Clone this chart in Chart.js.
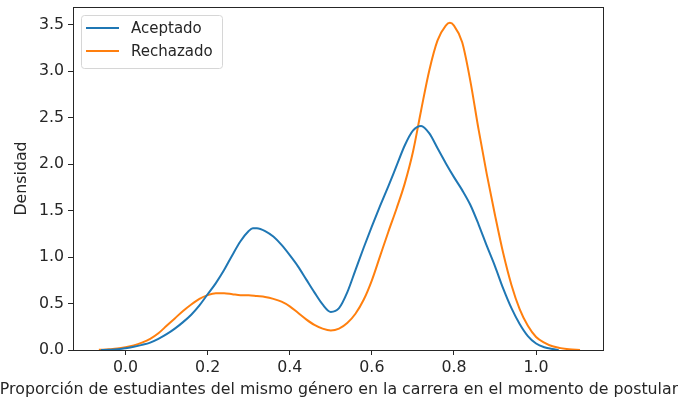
<!DOCTYPE html>
<html>
<head>
<meta charset="utf-8">
<script src="https://cdn.jsdelivr.net/npm/chart.js@4"></script>
<style>
  html, body { margin: 0; padding: 0; background: #fff; }
  #wrap { width: 678px; height: 402px; }
</style>
</head>
<body>
<div id="wrap"><canvas id="kde" width="678" height="402"></canvas></div>
<script>
// values
const seriesLabels = ["Aceptado", "Rechazado"];
const xTitle = "Proporción de estudiantes del mismo género en la carrera en el momento de postular";
const yTitle = "Densidad";

const xAceptado = [-0.06, -0.04, -0.02, 0.00, 0.02, 0.04, 0.06, 0.08, 0.10, 0.12, 0.14, 0.16, 0.18, 0.20,
  0.22, 0.24, 0.26, 0.28, 0.30, 0.31, 0.32, 0.34, 0.36, 0.38, 0.40, 0.42, 0.44, 0.46, 0.48, 0.50,
  0.52, 0.54, 0.56, 0.58, 0.60, 0.62, 0.64, 0.66, 0.68, 0.70, 0.72, 0.74, 0.76, 0.78, 0.80,
  0.82, 0.84, 0.86, 0.88, 0.90, 0.92, 0.94, 0.96, 0.98, 1.00, 1.02, 1.04, 1.055];
const yAceptado = [0.0, 0.003, 0.008, 0.02, 0.035, 0.055, 0.08, 0.12, 0.17, 0.23, 0.30, 0.38, 0.48, 0.60,
  0.72, 0.86, 1.02, 1.17, 1.28, 1.31, 1.31, 1.28, 1.22, 1.13, 1.02, 0.90, 0.76, 0.62, 0.49, 0.41,
  0.45, 0.62, 0.86, 1.10, 1.33, 1.55, 1.76, 1.98, 2.20, 2.36, 2.41, 2.33, 2.17, 2.01, 1.86,
  1.72, 1.56, 1.35, 1.12, 0.90, 0.66, 0.45, 0.28, 0.15, 0.07, 0.03, 0.01, 0.0];

const xRechazado = [-0.065, -0.04, -0.02, 0.00, 0.02, 0.04, 0.06, 0.08, 0.10, 0.12, 0.14, 0.16, 0.18, 0.20,
  0.22, 0.24, 0.26, 0.28, 0.30, 0.32, 0.34, 0.36, 0.38, 0.40, 0.42, 0.44, 0.46, 0.48, 0.50,
  0.52, 0.54, 0.56, 0.58, 0.60, 0.62, 0.64, 0.66, 0.68, 0.70, 0.72, 0.74, 0.76, 0.78, 0.79, 0.80,
  0.82, 0.84, 0.86, 0.88, 0.90, 0.92, 0.94, 0.96, 0.98, 1.00, 1.02, 1.04, 1.06, 1.08, 1.107];
const yRechazado = [0.002, 0.008, 0.015, 0.03, 0.05, 0.08, 0.12, 0.18, 0.26, 0.34, 0.42, 0.49, 0.55, 0.59,
  0.61, 0.61, 0.60, 0.59, 0.59, 0.58, 0.57, 0.55, 0.52, 0.47, 0.40, 0.33, 0.27, 0.23, 0.21,
  0.23, 0.29, 0.39, 0.54, 0.75, 1.01, 1.27, 1.52, 1.79, 2.13, 2.58, 3.01, 3.33, 3.49, 3.52, 3.49,
  3.31, 2.89, 2.37, 1.89, 1.45, 1.04, 0.70, 0.44, 0.26, 0.14, 0.08, 0.04, 0.02, 0.008, 0.0];

const xTicks = [0.0, 0.2, 0.4, 0.6, 0.8, 1.0];
const yTicks = [0.0, 0.5, 1.0, 1.5, 2.0, 2.5, 3.0, 3.5];

const colors = ["#1f77b4", "#ff7f0e"];
const ink = "#262626";
const font = "DejaVu Sans";
const textSize = 15.8;

const toPoints = (xs, ys) => xs.map((x, i) => ({ x, y: ys[i] }));

// frame round the plot area, like the matplotlib spines
const framePlugin = {
  id: "frame",
  afterDatasetsDraw(chart) {
    const { ctx, chartArea: a } = chart;
    ctx.save();
    ctx.strokeStyle = ink;
    ctx.lineWidth = 1;
    ctx.strokeRect(Math.round(a.left) + 0.5, Math.round(a.top) + 0.5,
      Math.round(a.right - a.left), Math.round(a.bottom - a.top));
    ctx.restore();
  },
};

// x title is wider than the plot, so draw it without squeezing
const xTitlePlugin = {
  id: "xTitle",
  afterDraw(chart) {
    const { ctx, chartArea: a } = chart;
    ctx.save();
    ctx.font = textSize + "px '" + font + "'";
    ctx.fillStyle = ink;
    ctx.textAlign = "center";
    ctx.textBaseline = "middle";
    ctx.fillText(xTitle, (a.left + a.right) / 2 + 1, 390);
    ctx.restore();
  },
};

// legend box in the upper left corner of the plot
const legendPlugin = {
  id: "boxLegend",
  afterDraw(chart) {
    const { ctx, chartArea: a } = chart;
    const x = a.left + 8, y = a.top + 8, w = 141, h = 53;
    ctx.save();
    ctx.fillStyle = "rgba(255,255,255,0.8)";
    ctx.strokeStyle = "#d6d6d6";
    ctx.lineWidth = 1;
    ctx.beginPath();
    ctx.roundRect(x + 0.5, y + 0.5, w, h, 3);
    ctx.fill();
    ctx.stroke();
    ctx.font = "15px '" + font + "'";
    ctx.textBaseline = "middle";
    chart.data.datasets.forEach((ds, i) => {
      const ly = y + 13 + i * 23;
      ctx.strokeStyle = ds.borderColor;
      ctx.lineWidth = 2;
      ctx.beginPath();
      ctx.moveTo(x + 5, ly);
      ctx.lineTo(x + 38, ly);
      ctx.stroke();
      ctx.fillStyle = ink;
      ctx.fillText(ds.label, x + 50, ly + 1);
    });
    ctx.restore();
  },
};

new Chart(document.getElementById("kde"), {
  type: "line",
  data: {
    datasets: [
      {
        label: seriesLabels[0],
        data: toPoints(xAceptado, yAceptado),
        borderColor: colors[0],
        borderWidth: 2,
        pointRadius: 0,
        cubicInterpolationMode: "monotone",
        fill: false,
      },
      {
        label: seriesLabels[1],
        data: toPoints(xRechazado, yRechazado),
        borderColor: colors[1],
        borderWidth: 2,
        pointRadius: 0,
        cubicInterpolationMode: "monotone",
        fill: false,
      },
    ],
  },
  options: {
    responsive: false,
    animation: false,
    layout: { padding: { top: 7, right: 75, left: 0, bottom: 0 } },
    plugins: { legend: { display: false }, tooltip: { enabled: false } },
    scales: {
      x: {
        type: "linear",
        min: -0.128,
        max: 1.163,
        afterBuildTicks: (s) => { s.ticks = xTicks.map((v) => ({ value: v })); },
        afterFit: (s) => {
          s.height = 52;
          s.paddingLeft = 0;
          s.paddingRight = 0;
        },
        ticks: {
          color: ink,
          padding: 3,
          maxRotation: 0,
          autoSkip: false,
          font: { family: font, size: textSize },
          callback: (v) => Number(v).toFixed(1),
        },
        grid: { drawOnChartArea: false, drawTicks: true, tickLength: 5, color: ink },
        border: { display: true, color: ink },
      },
      y: {
        min: 0,
        max: 3.69,
        afterBuildTicks: (s) => { s.ticks = yTicks.map((v) => ({ value: v })); },
        afterFit: (s) => {
          s.width = 73;
          s.paddingTop = 0;
          s.paddingBottom = 0;
        },
        ticks: {
          color: ink,
          padding: 4,
          autoSkip: false,
          font: { family: font, size: textSize },
          callback: (v) => Number(v).toFixed(1),
        },
        grid: { drawOnChartArea: false, drawTicks: true, tickLength: 5, color: ink },
        border: { display: true, color: ink },
        title: {
          display: true,
          text: yTitle,
          color: ink,
          font: { family: font, size: textSize },
          padding: { top: 12, bottom: 0 },
        },
      },
    },
  },
  plugins: [framePlugin, xTitlePlugin, legendPlugin],
});
</script>
</body>
</html>
